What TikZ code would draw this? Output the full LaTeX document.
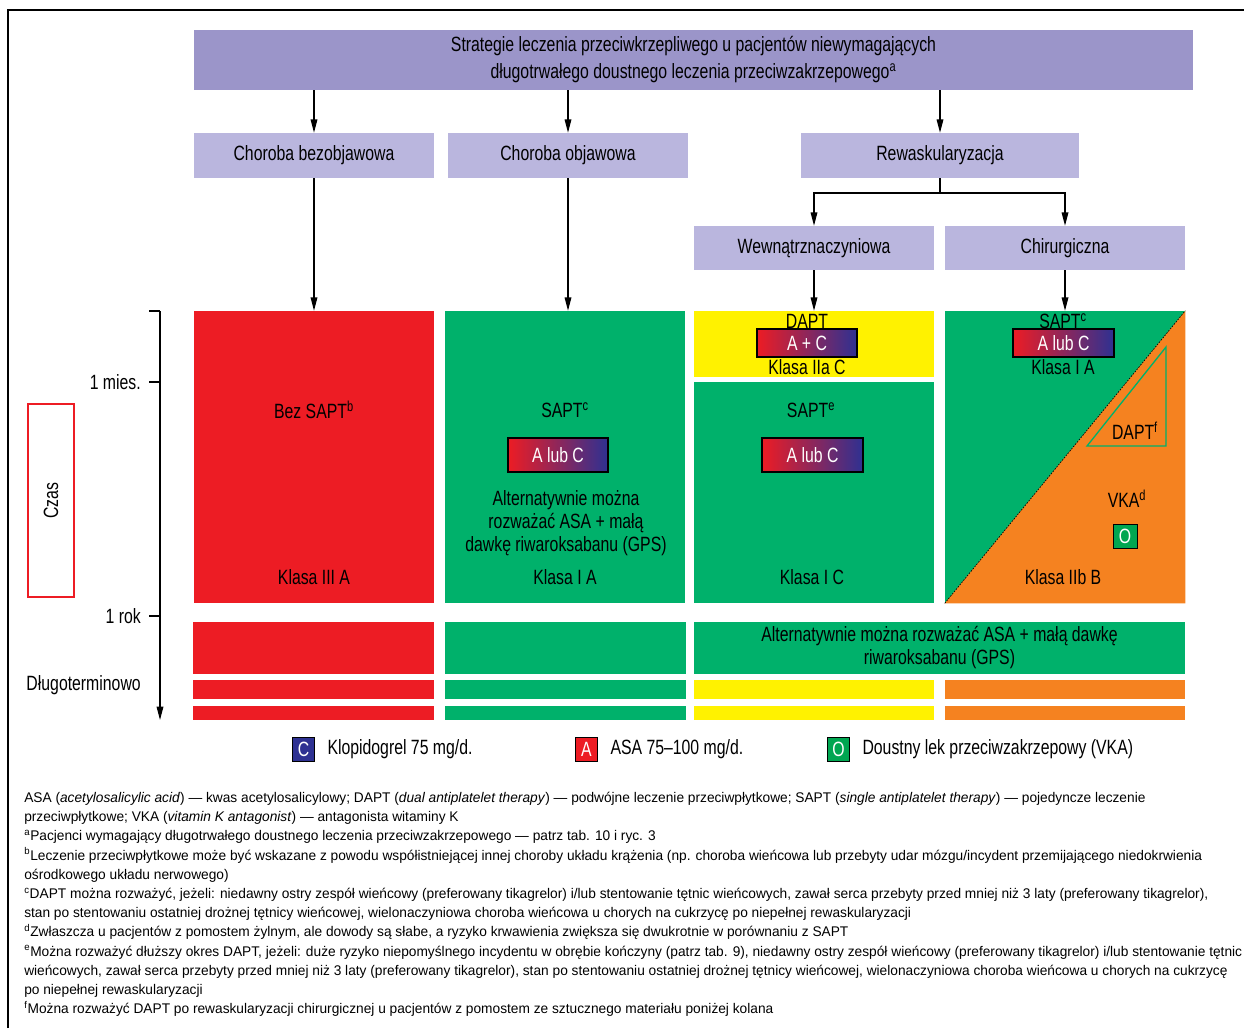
\documentclass[tikz,border=0pt]{standalone}
\usepackage{fontspec}
\setmainfont{Liberation Sans}[FakeStretch=0.765]
\newfontfamily\notefont{Liberation Sans}[FakeStretch=0.98]
\usetikzlibrary{positioning, arrows.meta}
\definecolor{headCol}{HTML}{9B95C9}
\definecolor{catCol}{HTML}{BAB6DE}
\definecolor{redCol}{HTML}{ED1C24}
\definecolor{greenCol}{HTML}{00B16B}
\definecolor{yellowCol}{HTML}{FFF200}
\definecolor{orangeCol}{HTML}{F58220}
\definecolor{navyCol}{HTML}{2E3192}
\definecolor{vkaCol}{HTML}{00A651}
\newcommand{\mainfs}{\fontsize{15.5}{17.25}\selectfont}
\newcommand{\notefs}{\notefont\fontsize{10.5}{14.4}\selectfont}

\begin{document}
\begin{tikzpicture}[
    x=0.75pt, y=-0.75pt,
    % Node styles
    dims/.style 2 args={
        minimum width=#1,
        minimum height=#2
    },
    headbox/.style={
        rectangle,
        fill=headCol,
        inner sep=0pt,
        align=center,
        font=\fontsize{15.5}{20.25}\selectfont
    },
    catbox/.style={
        rectangle,
        fill=catCol,
        inner sep=0pt,
        align=center,
        font=\mainfs
    },
    panel/.style={
        rectangle,
        fill=#1,
        inner sep=0pt,
        align=center,
        font=\mainfs
    },
    drugbox/.style={
        rectangle,
        draw=black,
        line width=0.9pt,
        left color=redCol,
        right color=navyCol,
        inner sep=0pt,
        text=white,
        font=\mainfs
    },
    txt/.style={
        inner sep=0pt,
        align=center,
        font=\mainfs
    },
    legkey/.style={
        rectangle,
        draw=black,
        line width=0.6pt,
        fill=#1,
        text=white,
        minimum width=17pt,
        minimum height=18pt,
        inner sep=0pt,
        font=\mainfs
    },
    arrow/.style={
        -{Triangle[length=10pt, width=5pt]},
        line width=0.9pt
    },
    link/.style={
        line width=0.9pt
    }
]
    \useasboundingbox (0,0) rectangle (1244,1028);

    % ==== FRAME ====
    \draw[line width=1.2pt] (8,1028) -- (8,10) -- (1244,10);

    % ==== TITLE ====
    \node[headbox, dims={749.25pt}{45pt}] (head) at (693.5,60) {Strategie leczenia przeciwkrzepliwego u pacjentów niewymagających\\długotrwałego doustnego leczenia przeciwzakrzepowego\textsuperscript{a}};

    % ==== CATEGORIES ====
    \node[catbox, dims={180pt}{33.75pt}] (asym) at (314,155.5) {Choroba bezobjawowa};
    \node[catbox, dims={180pt}{33.75pt}] (sym) at (568,155.5) {Choroba objawowa};
    \node[catbox, dims={208.5pt}{33.75pt}] (revasc) at (940,155.5) {Rewaskularyzacja};
    \node[catbox, dims={180pt}{33pt}] (endo) at (814,248) {Wewnątrznaczyniowa};
    \node[catbox, dims={180pt}{33pt}] (surg) at (1065,248) {Chirurgiczna};

    \draw[arrow] (head.south -| asym.north) -- (asym.north);
    \draw[arrow] (head.south -| sym.north) -- (sym.north);
    \draw[arrow] (head.south -| revasc.north) -- (revasc.north);

    % Split of revascularisation
    \coordinate (fork) at (940,193);
    \draw[link] (revasc.south) -- (fork);
    \draw[arrow] (fork) -| (endo.north);
    \draw[arrow] (fork) -| (surg.north);

    % ==== TREATMENT PANELS ====
    \node[panel=redCol, dims={180pt}{219pt}] (p1) at (314,457) {};
    \node[panel=greenCol, dims={180pt}{219pt}] (p2) at (565,457) {};
    \node[panel=yellowCol, dims={180pt}{49.5pt}] (p3a) at (814,344) {};
    \node[panel=greenCol, dims={180pt}{165.75pt}] (p3b) at (814,492.5) {};
    \node[panel=greenCol, dims={180pt}{219pt}] (p4) at (1065,457) {};

    \draw[arrow] (asym.south) -- (p1.north);
    \draw[arrow] (sym.south) -- (sym.south |- p2.north);
    \draw[arrow] (endo.south) -- (p3a.north);
    \draw[arrow] (surg.south) -- (p4.north);

    % Surgical panel: SAPT -> VKA
    \fill[orangeCol] (p4.north east) -- (p4.south east) -- (p4.south west) -- cycle;
    \draw[line width=0.5pt, dash pattern=on 1.2pt off 1pt] (p4.south west) -- (p4.north east);
    \draw[greenCol, line width=1pt] (1087,446) -- (1166,446) -- (1166,347) -- cycle;

    % Panel texts
    \node[txt] (p1top) at (314,410) {Bez SAPT\textsuperscript{b}};
    \node[txt] (p1cls) at (314,577) {Klasa III A};

    \node[txt] (p2top) at (565,410) {SAPT\textsuperscript{c}};
    \node[drugbox, dims={75pt}{25.5pt}] (p2drug) at (558,455) {A lub C};
    \node[txt] (p2alt) at (566,523) {Alternatywnie można\\rozważać ASA + małą\\dawkę riwaroksabanu (GPS)};
    \node[txt] (p2cls) at (565,577) {Klasa I A};

    \node[txt] (p3atop) at (807,321) {DAPT};
    \node[drugbox, dims={75pt}{21pt}] (p3adrug) at (807,343) {A + C};
    \node[txt] (p3acls) at (807,367) {Klasa IIa C};

    \node[txt] (p3btop) at (811,410) {SAPT\textsuperscript{e}};
    \node[drugbox, dims={75.75pt}{25.5pt}] (p3bdrug) at (812.5,455) {A lub C};
    \node[txt] (p3bcls) at (812,577) {Klasa I C};

    \node[txt] (p4top) at (1063,321) {SAPT\textsuperscript{c}};
    \node[drugbox, dims={75.75pt}{21pt}] (p4drug) at (1063.5,343) {A lub C};
    \node[txt] (p4cls1) at (1063,367) {Klasa I A};
    \node[txt] (p4dapt) at (1135,431) {DAPT\textsuperscript{f}};
    \node[txt] (p4vka) at (1127,499) {VKA\textsuperscript{d}};
    \node[legkey=vkaCol, dims={18pt}{18pt}] (p4o) at (1125,536) {O};
    \node[txt] (p4cls2) at (1063,577) {Klasa IIb B};

    % ==== LONG-TERM BARS ====
    \node[panel=redCol, dims={180.75pt}{39pt}] (r1a) at (313.5,648) {};
    \node[panel=greenCol, dims={180.75pt}{39pt}] (r1b) at (565.5,648) {};
    \node[panel=greenCol, dims={368.25pt}{39pt}] (r1c) at (939.5,648) {Alternatywnie można rozważać ASA + małą dawkę\\riwaroksabanu (GPS)};

    \node[panel=redCol, dims={180.75pt}{14.25pt}] (r2a) at (313.5,689.5) {};
    \node[panel=greenCol, dims={180.75pt}{14.25pt}] (r2b) at (565.5,689.5) {};
    \node[panel=yellowCol, dims={180pt}{14.25pt}] (r2c) at (814,689.5) {};
    \node[panel=orangeCol, dims={180pt}{14.25pt}] (r2d) at (1065,689.5) {};

    \node[panel=redCol, dims={180.75pt}{10.5pt}] (r3a) at (313.5,713) {};
    \node[panel=greenCol, dims={180.75pt}{10.5pt}] (r3b) at (565.5,713) {};
    \node[panel=yellowCol, dims={180pt}{10.5pt}] (r3c) at (814,713) {};
    \node[panel=orangeCol, dims={180pt}{10.5pt}] (r3d) at (1065,713) {};

    % ==== TIME AXIS ====
    \coordinate (tTop) at (160,311);
    \coordinate (tMonth) at (160,382);
    \coordinate (tYear) at (160,616);
    \coordinate (tEnd) at (160,720);
    \draw[arrow] (tTop) -- (tEnd);
    \draw[link] (tTop) -- ++(-11,0);
    \draw[link] (tMonth) -- ++(-11,0);
    \draw[link] (tYear) -- ++(-11,0);

    \node[txt, anchor=east] (lMonth) at (141,382) {1 mies.};
    \node[txt, anchor=east] (lYear) at (141,616) {1 rok};
    \node[txt, anchor=east] (lLong) at (141,685) {Długoterminowo};

    \node[draw=redCol, line width=0.8pt, inner sep=0pt, dims={34.5pt}{144.75pt}] (czasbox) at (51,500.5) {};
    \node[txt, rotate=90] (czas) at (czasbox.center) {Czas};

    % ==== LEGEND ====
    \node[legkey=navyCol] (keyC) at (303.5,749) {C};
    \node[txt, right=9pt of keyC] (legC) {Klopidogrel 75 mg/d.};
    \node[legkey=redCol] (keyA) at (586.5,749) {A};
    \node[txt, right=9pt of keyA] (legA) {ASA 75–100 mg/d.};
    \node[legkey=vkaCol] (keyO) at (838.5,749) {O};
    \node[txt, right=9pt of keyO] (legO) {Doustny lek przeciwzakrzepowy (VKA)};

    % ==== FOOTNOTES ====
    \node[txt, anchor=north west, align=left, font=\notefs] (notes) at (24,792) {
        ASA (\textit{acetylosalicylic acid}) — kwas acetylosalicylowy; DAPT (\textit{dual antiplatelet therapy}) — podwójne leczenie przeciwpłytkowe; SAPT (\textit{single antiplatelet therapy}) — pojedyncze leczenie\\
        przeciwpłytkowe; VKA (\textit{vitamin K antagonist}) — antagonista witaminy K\\
        \textsuperscript{a}Pacjenci wymagający długotrwałego doustnego leczenia przeciwzakrzepowego — patrz tab. 10 i ryc. 3\\
        \textsuperscript{b}Leczenie przeciwpłytkowe może być wskazane z powodu współistniejącej innej choroby układu krążenia (np. choroba wieńcowa lub przebyty udar mózgu/incydent przemijającego niedokrwienia\\
        ośrodkowego układu nerwowego)\\
        \textsuperscript{c}DAPT można rozważyć, jeżeli: niedawny ostry zespół wieńcowy (preferowany tikagrelor) i/lub stentowanie tętnic wieńcowych, zawał serca przebyty przed mniej niż 3 laty (preferowany tikagrelor),\\
        stan po stentowaniu ostatniej drożnej tętnicy wieńcowej, wielonaczyniowa choroba wieńcowa u chorych na cukrzycę po niepełnej rewaskularyzacji\\
        \textsuperscript{d}Zwłaszcza u pacjentów z pomostem żylnym, ale dowody są słabe, a ryzyko krwawienia zwiększa się dwukrotnie w porównaniu z SAPT\\
        \textsuperscript{e}Można rozważyć dłuższy okres DAPT, jeżeli: duże ryzyko niepomyślnego incydentu w obrębie kończyny (patrz tab. 9), niedawny ostry zespół wieńcowy (preferowany tikagrelor) i/lub stentowanie tętnic\\
        wieńcowych, zawał serca przebyty przed mniej niż 3 laty (preferowany tikagrelor), stan po stentowaniu ostatniej drożnej tętnicy wieńcowej, wielonaczyniowa choroba wieńcowa u chorych na cukrzycę\\
        po niepełnej rewaskularyzacji\\
        \textsuperscript{f}Można rozważyć DAPT po rewaskularyzacji chirurgicznej u pacjentów z pomostem ze sztucznego materiału poniżej kolana};

\end{tikzpicture}
\end{document}
